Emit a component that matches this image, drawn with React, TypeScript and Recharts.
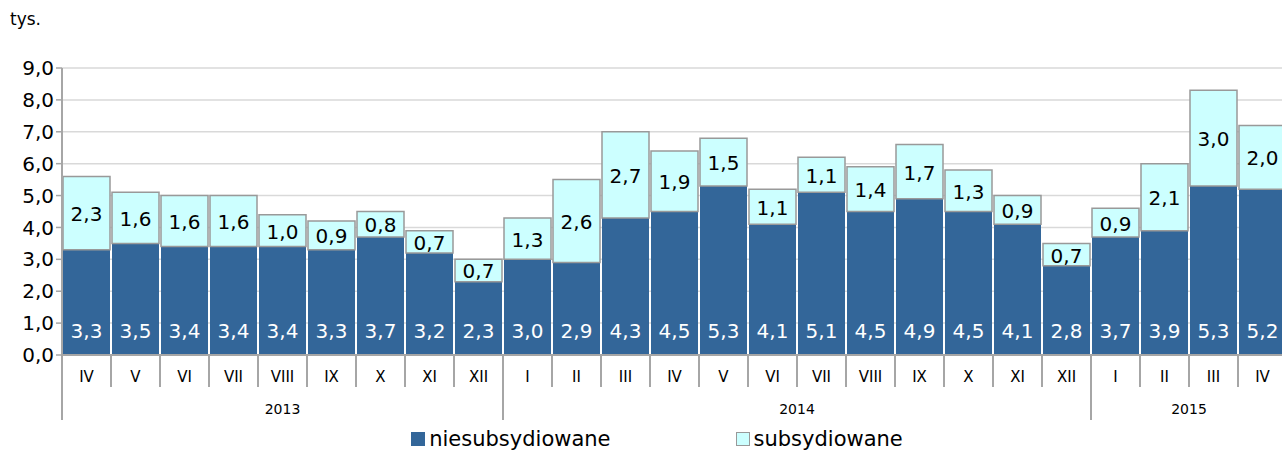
import React from "react";
import { BarChart, Bar, XAxis, YAxis, CartesianGrid, Legend, LabelList } from "recharts";

const months = ["IV", "V", "VI", "VII", "VIII", "IX", "X", "XI", "XII", "I", "II", "III", "IV", "V", "VI", "VII", "VIII", "IX", "X", "XI", "XII", "I", "II", "III", "IV"];
const years = [
  { label: "2013", start: 0, count: 9 },
  { label: "2014", start: 9, count: 12 },
  { label: "2015", start: 21, count: 4 },
];
const niesubsydiowane = [3.3, 3.5, 3.4, 3.4, 3.4, 3.3, 3.7, 3.2, 2.3, 3.0, 2.9, 4.3, 4.5, 5.3, 4.1, 5.1, 4.5, 4.9, 4.5, 4.1, 2.8, 3.7, 3.9, 5.3, 5.2];
const subsydiowane = [2.3, 1.6, 1.6, 1.6, 1.0, 0.9, 0.8, 0.7, 0.7, 1.3, 2.6, 2.7, 1.9, 1.5, 1.1, 1.1, 1.4, 1.7, 1.3, 0.9, 0.7, 0.9, 2.1, 3.0, 2.0];
const yTicks = [0, 1, 2, 3, 4, 5, 6, 7, 8, 9];

const data = months.map((m, i) => ({ name: m, idx: i, nie: niesubsydiowane[i], sub: subsydiowane[i] }));

const FONT = "Verdana, 'DejaVu Sans', sans-serif";
const W = 1290;
const H = 451;
const M = { top: 68, right: 3, bottom: 0, left: 0 };
const Y_W = 62;
const band = (W - M.left - M.right - Y_W) / months.length;

const fmt = (v: number) => v.toFixed(1).replace(".", ",");

function MonthTick(props: any) {
  const { x, y, payload } = props;
  const i = payload.index;
  const left = x - band / 2;
  const yr = years.find((g) => g.start === i);
  const top = y - 8;
  return (
    <g>
      <line x1={left} y1={top} x2={left} y2={top + (yr ? 65 : 32)} stroke="#a6a6a6" strokeWidth={2} />
      {i === months.length - 1 && (
        <line x1={left + band} y1={top} x2={left + band} y2={top + 32} stroke="#a6a6a6" strokeWidth={2} />
      )}
      <text x={x} y={top + 27} textAnchor="middle" fontSize={15} fontFamily={FONT} fill="#000">{payload.value}</text>
      {yr && (
        <text x={left + (yr.count * band) / 2} y={top + 59} textAnchor="middle" fontSize={14} fontFamily={FONT} fill="#000">{yr.label}</text>
      )}
    </g>
  );
}

function NieLabel(props: any) {
  const { x, y, width, height, value } = props;
  return (
    <text x={x + width / 2} y={y + height - 24} textAnchor="middle" dominantBaseline="central" fontSize={20} fontFamily={FONT} fill="#fff">
      {fmt(value)}
    </text>
  );
}

function SubLabel(props: any) {
  const { x, y, width, height, value } = props;
  return (
    <text x={x + width / 2} y={y + height / 2 + 1} textAnchor="middle" dominantBaseline="central" fontSize={20} fontFamily={FONT} fill="#000">
      {fmt(value)}
    </text>
  );
}

function LegendBox() {
  const item = (fill: string, stroke: string, label: string) => (
    <span style={{ display: "inline-flex", alignItems: "center" }}>
      <span style={{ display: "inline-block", width: 12, height: 12, background: fill, border: `1px solid ${stroke}`, marginRight: 4 }} />
      <span>{label}</span>
    </span>
  );
  return (
    <div style={{ height: 26, boxSizing: "border-box", display: "flex", justifyContent: "center", alignItems: "center", gap: 125, paddingLeft: 32, lineHeight: "22px", transform: "translateY(1px)", fontFamily: FONT, fontSize: 21, color: "#000" }}>
      {item("#336699", "#336699", "niesubsydiowane")}
      {item("#ccffff", "#999999", "subsydiowane")}
    </div>
  );
}

export default function App() {
  return (
    <div style={{ position: "absolute", left: 0, top: 0, width: 1282, height: H, overflow: "hidden", background: "#fff" }}>
      <div style={{ position: "absolute", left: 10, top: 9, fontFamily: FONT, fontSize: 17 }}>tys.</div>
      <BarChart width={W} height={H} data={data} margin={M} barCategoryGap={1}>
        <CartesianGrid vertical={false} stroke="#d9d9d9" strokeWidth={1.5} />
        <XAxis dataKey="name" height={70} interval={0} tickLine={false} axisLine={{ stroke: "#a6a6a6", strokeWidth: 2 }} tick={<MonthTick />} />
        <YAxis
          width={Y_W}
          domain={[0, 9]}
          ticks={yTicks}
          tickFormatter={fmt}
          interval={0}
          axisLine={{ stroke: "#a6a6a6", strokeWidth: 2 }}
          tickLine={{ stroke: "#a6a6a6", strokeWidth: 1.5 }}
          tickSize={6}
          tick={{ fontSize: 20, fontFamily: FONT, fill: "#000" }}
        />
        <Legend verticalAlign="bottom" content={<LegendBox />} wrapperStyle={{ left: 0, width: 1282 }} />
        <Bar dataKey="nie" stackId="a" fill="#336699" isAnimationActive={false}>
          <LabelList dataKey="nie" content={<NieLabel />} />
        </Bar>
        <Bar dataKey="sub" stackId="a" fill="#ccffff" stroke="#999999" strokeWidth={1.5} isAnimationActive={false}>
          <LabelList dataKey="sub" content={<SubLabel />} />
        </Bar>
      </BarChart>
    </div>
  );
}
